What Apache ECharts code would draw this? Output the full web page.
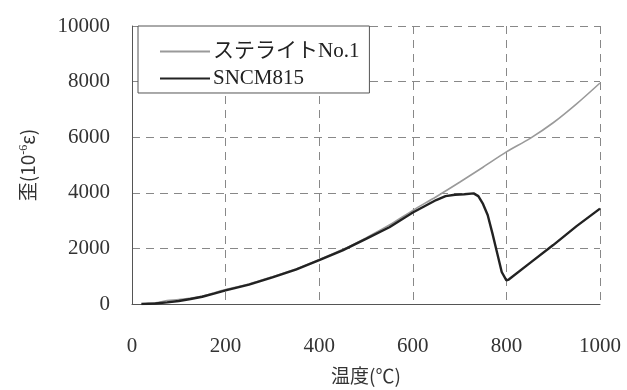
<!DOCTYPE html>
<html>
<head>
<meta charset="utf-8">
<script src="https://cdn.jsdelivr.net/npm/echarts@6/dist/echarts.min.js"></script>
<style>
  html, body { margin: 0; padding: 0; background: #fff; }
  #main { width: 627px; height: 390px; }
</style>
</head>
<body>
<div id="main"></div>
<script>
// 温度 (℃) と 歪 (10^-6 ε) の読み取り値
var stelliteTemp = [25, 50, 75, 100, 150, 200, 250, 300, 350, 400, 450, 500, 550, 600, 650, 700, 750, 800, 850, 900, 950, 1000];
var stelliteStrain = [0, 40, 120, 160, 280, 520, 720, 980, 1260, 1600, 1960, 2380, 2840, 3370, 3860, 4380, 4920, 5470, 5950, 6520, 7200, 7950];

var sncmTemp = [20, 50, 75, 100, 125, 150, 175, 200, 250, 300, 350, 400, 450, 500, 550, 600, 650, 670, 690, 710, 730, 740, 750, 760, 770, 780, 790, 800, 805, 850, 900, 950, 1000];
var sncmStrain = [0, 20, 60, 110, 180, 260, 370, 490, 700, 960, 1240, 1580, 1930, 2340, 2760, 3290, 3740, 3880, 3930, 3950, 3980, 3880, 3600, 3200, 2550, 1850, 1150, 850, 880, 1470, 2120, 2800, 3430];

var xTicks = [0, 200, 400, 600, 800, 1000];
var yTicks = [0, 2000, 4000, 6000, 8000, 10000];

var seriesNames = ['ステライトNo.1', 'SNCM815'];

function pairs(xs, ys) {
  var out = [];
  for (var i = 0; i < xs.length; i++) {
    out.push([xs[i], ys[i]]);
  }
  return out;
}

var serif = '"Liberation Serif", "DejaVu Serif", "Noto Sans CJK JP", serif';
var jp = '"Noto Sans CJK JP", "Liberation Serif", serif';

var chart = echarts.init(document.getElementById('main'), null, { renderer: 'canvas' });

var option = {
  backgroundColor: '#fff',
  animation: false,
  grid: {
    left: 132,
    right: 27,
    top: 26,
    bottom: 85
  },
  legend: {
    data: [
      { name: seriesNames[0], icon: 'rect', itemStyle: { color: '#9a9a9a' } },
      { name: seriesNames[1], icon: 'rect', itemStyle: { color: '#222' } }
    ],
    orient: 'vertical',
    left: 138,
    top: 26,
    padding: [15, 10, 4, 22],
    itemWidth: 50,
    itemHeight: 2,
    itemGap: 6,
    backgroundColor: '#fff',
    borderColor: '#555',
    borderWidth: 1,
    borderRadius: 0,
    textStyle: {
      fontFamily: serif,
      fontSize: 21,
      color: '#222',
      padding: [0, 0, 0, -2]
    }
  },
  xAxis: {
    type: 'value',
    min: xTicks[0],
    max: xTicks[xTicks.length - 1],
    interval: 200,
    name: '温度(℃)',
    nameLocation: 'middle',
    nameGap: 62,
    nameTextStyle: {
      fontFamily: jp,
      fontSize: 19,
      color: '#333'
    },
    axisLine: { lineStyle: { color: '#555', width: 1 } },
    axisTick: { show: false },
    axisLabel: {
      margin: 32,
      fontFamily: serif,
      fontSize: 21,
      color: '#333',
      formatter: function (v) { return String(v); }
    },
    splitLine: {
      show: true,
      lineStyle: { color: '#888', type: [8, 6], width: 1 }
    }
  },
  yAxis: {
    type: 'value',
    min: yTicks[0],
    max: yTicks[yTicks.length - 1],
    interval: 2000,
    name: '歪(10{sup|-6}ε)',
    nameLocation: 'middle',
    nameRotate: 90,
    nameGap: 94,
    nameTextStyle: {
      fontFamily: jp,
      fontSize: 19,
      color: '#333',
      rich: {
        sup: {
          fontFamily: serif,
          fontSize: 12,
          color: '#333',
          verticalAlign: 'top',
          padding: [0, 0, 8, 0]
        }
      }
    },
    axisLine: { show: true, lineStyle: { color: '#555', width: 1 } },
    axisTick: { show: false },
    axisLabel: {
      margin: 22,
      fontFamily: serif,
      fontSize: 21,
      color: '#333',
      formatter: function (v) { return String(v); }
    },
    splitLine: {
      show: true,
      lineStyle: { color: '#888', type: [8, 6], width: 1 }
    }
  },
  series: [
    {
      name: seriesNames[0],
      type: 'line',
      data: pairs(stelliteTemp, stelliteStrain),
      symbol: 'none',
      smooth: 0.3,
      lineStyle: { color: '#9a9a9a', width: 1.6 },
      itemStyle: { color: '#9a9a9a' },
      z: 2
    },
    {
      name: seriesNames[1],
      type: 'line',
      data: pairs(sncmTemp, sncmStrain),
      symbol: 'none',
      smooth: false,
      lineStyle: { color: '#222', width: 2.4 },
      itemStyle: { color: '#222' },
      z: 3
    }
  ]
};

chart.setOption(option);
</script>
</body>
</html>
